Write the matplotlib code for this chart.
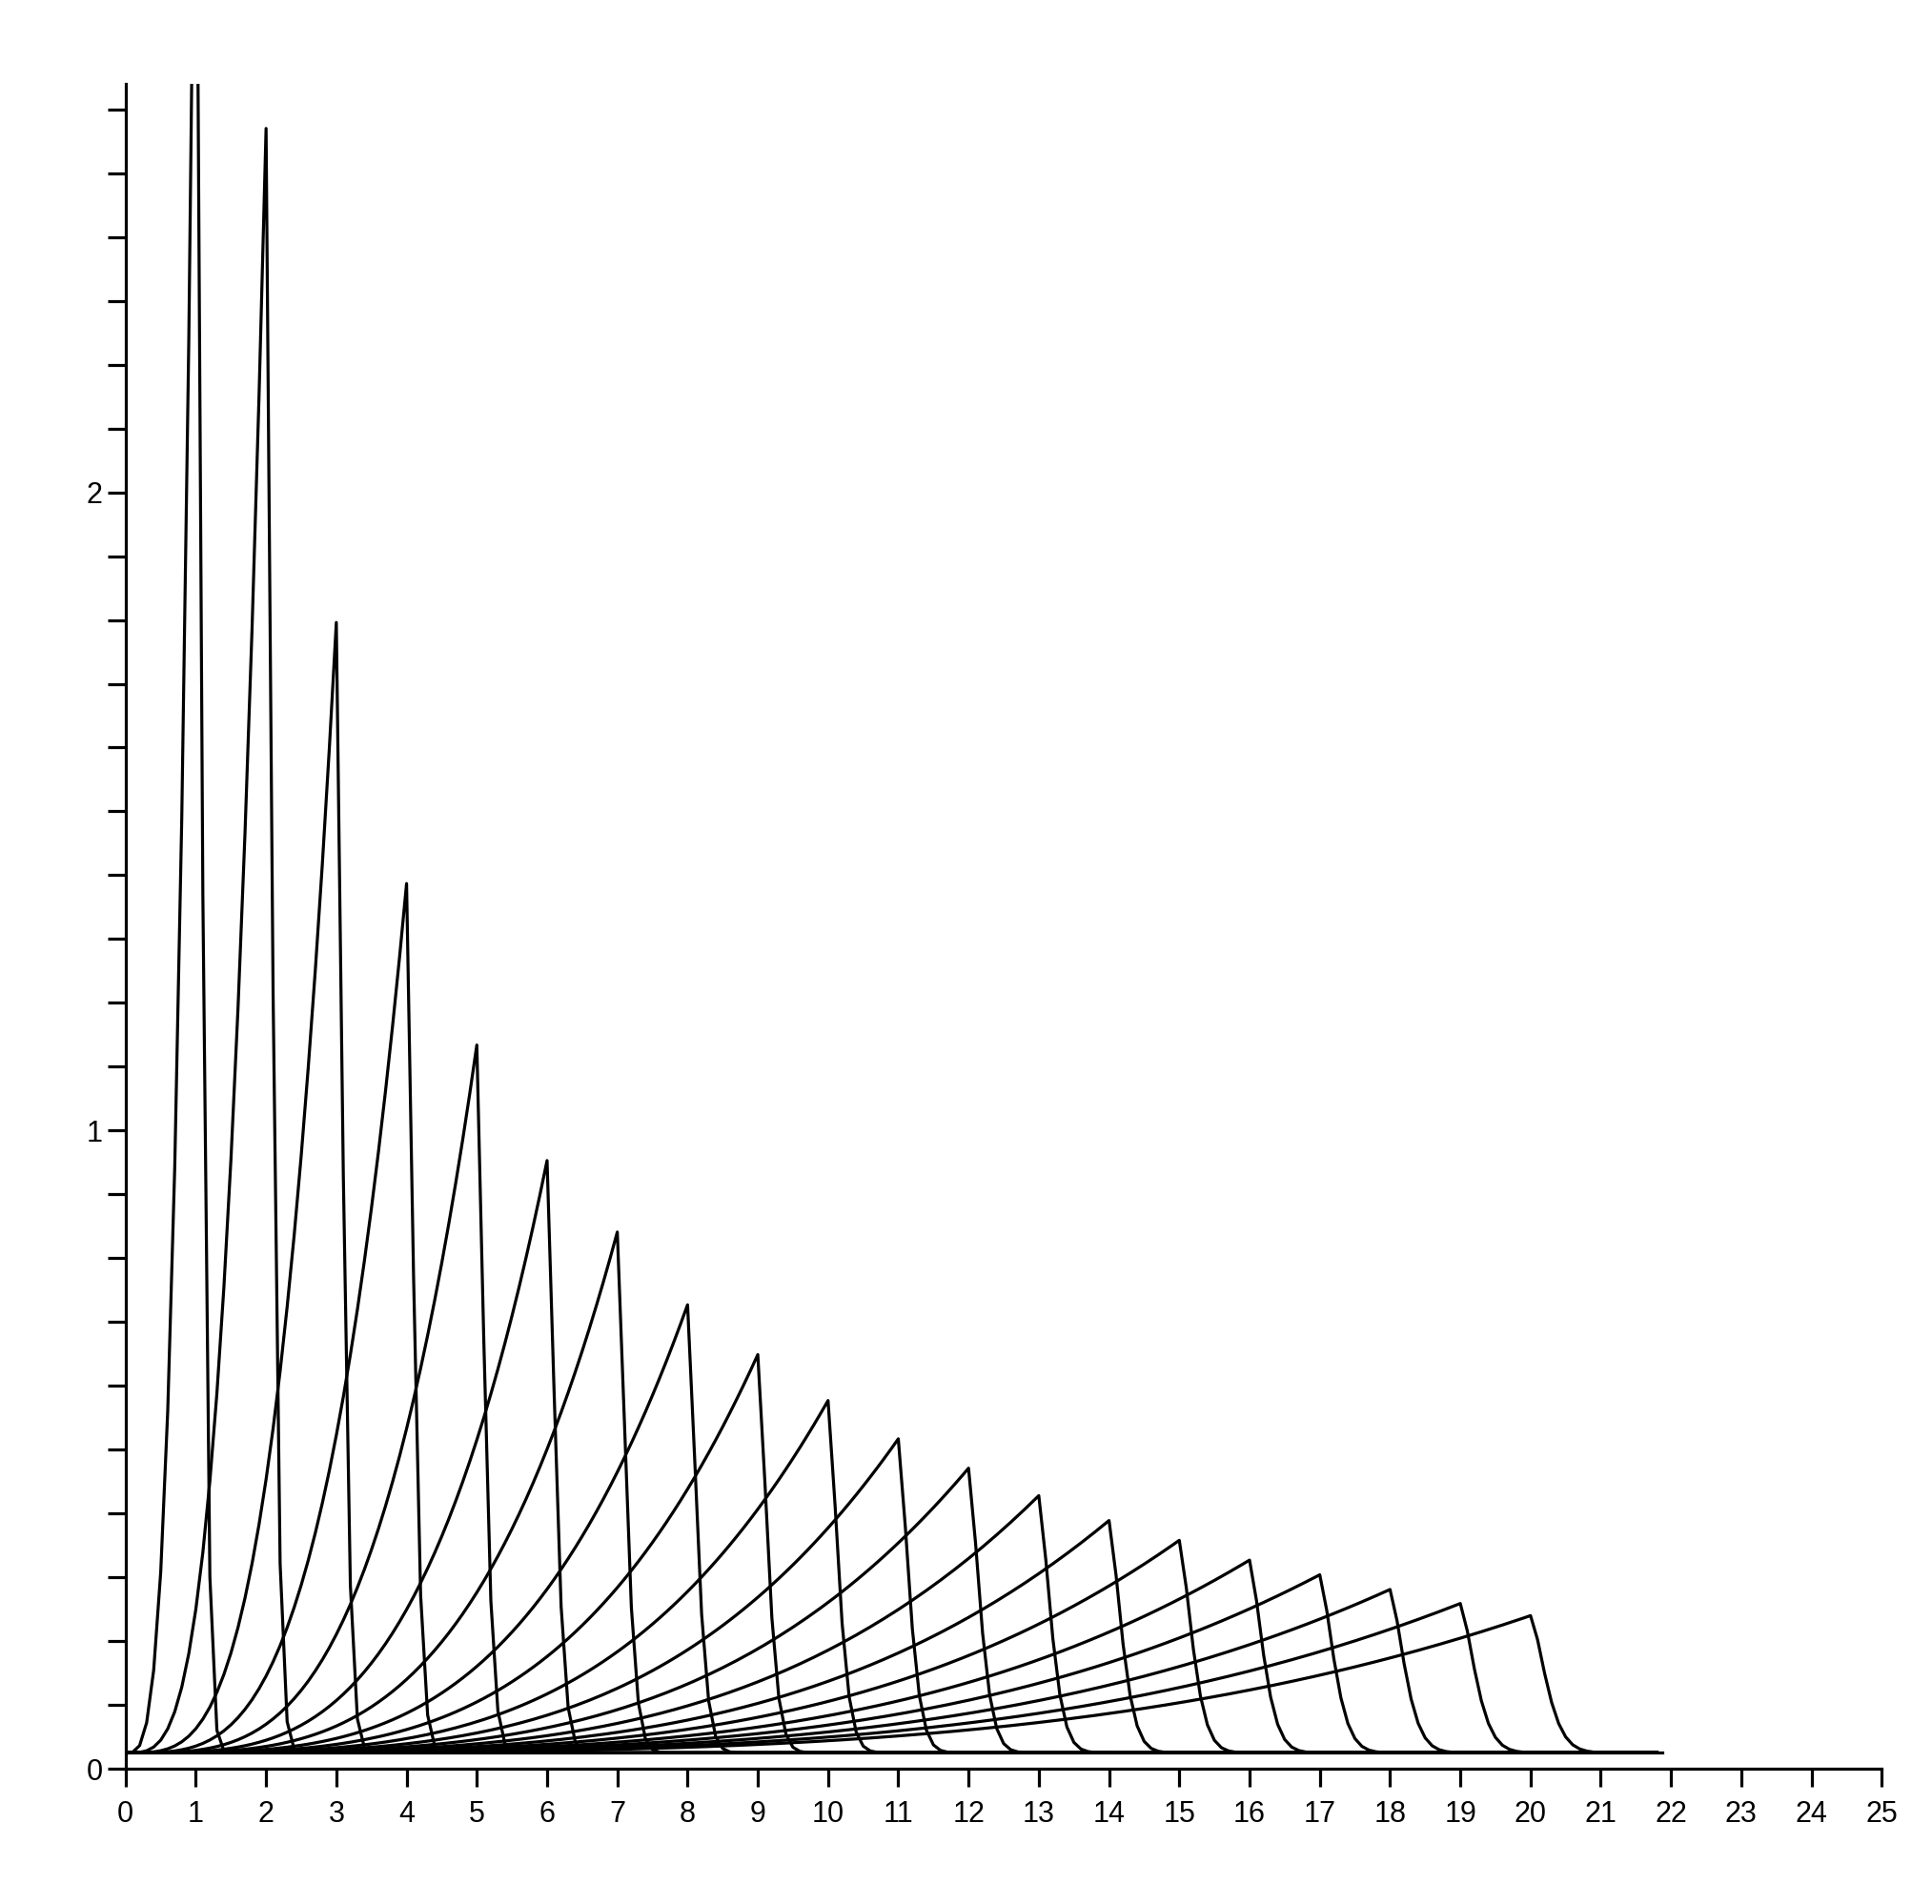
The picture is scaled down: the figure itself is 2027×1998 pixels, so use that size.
import matplotlib
matplotlib.use("Agg")
import numpy as np
import matplotlib.pyplot as plt

plt.rcParams["font.family"] = ["Liberation Sans", "DejaVu Sans"]

# peak positions and heights
peak_x = list(range(1, 21))
peak_h = [3.2, 2.545, 1.771, 1.362, 1.109, 0.928, 0.816, 0.702, 0.624, 0.552,
          0.492, 0.446, 0.403, 0.364, 0.333, 0.302, 0.279, 0.256, 0.234, 0.215]
baseline = 0.025
x_end = 21.87

fig = plt.figure(figsize=(20.27, 19.98), dpi=100)
ax = fig.add_axes([0.065, 0.071, 0.909, 0.885])

grid = np.arange(0, x_end + 1e-9, 0.1)
for n, h in zip(peak_x, peak_h):
    xs = np.union1d(grid, [n])
    rise = h * np.clip(xs / n, 0, 1) ** 3.5
    s = 0.1 + 0.01 * n
    fall = h * np.exp(-(np.clip(xs - n, 0, None) / s) ** 1.5)
    ys = np.where(xs <= n, rise, fall) + baseline
    ax.plot(xs, ys, color="black", lw=2.3, clip_on=True)
ax.plot([0, x_end], [baseline, baseline], color="black", lw=2.3)

ax.set_xlim(0, 25)
ax.set_ylim(0, 2.64)
for side in ("top", "right"):
    ax.spines[side].set_visible(False)
for side in ("left", "bottom"):
    ax.spines[side].set_linewidth(2.3)
ax.set_xticks(range(0, 26))
ax.set_yticks([0, 1, 2])
ax.set_yticks(np.arange(0, 2.64, 0.1), minor=True)
ax.tick_params(axis="both", which="major", length=14, width=2.3, labelsize=22, direction="out")
ax.tick_params(axis="y", which="minor", length=14, width=2.3)
ax.tick_params(axis="x", pad=10)

fig.savefig("out.png", dpi=100)
